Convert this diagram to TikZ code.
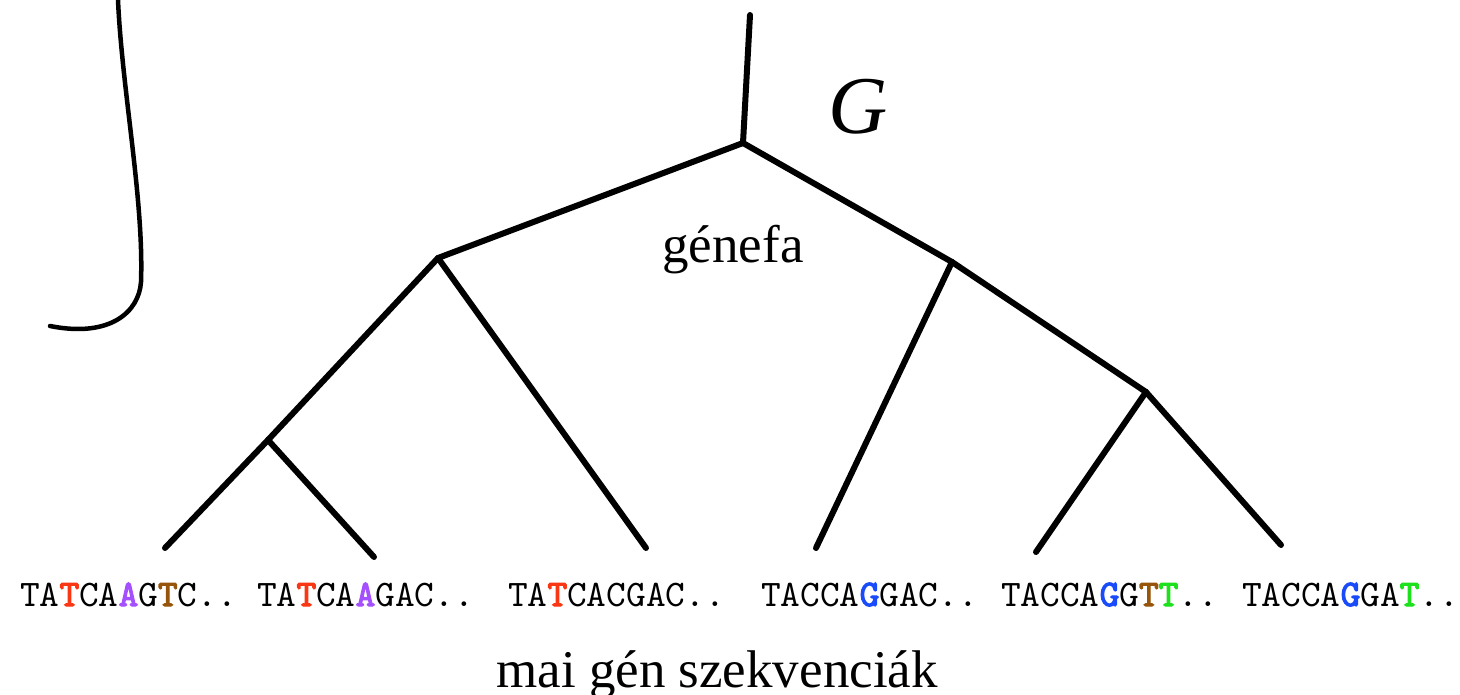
\documentclass[tikz,border=0pt]{standalone}
\usepackage{fontspec}
\setmainfont{Liberation Serif}
\newfontfamily\seqfont{lmmono10-regular.otf}[BoldFont=lmmono10-regular.otf,BoldFeatures={FakeBold=3}]
\definecolor{mred}{RGB}{250,55,20}
\definecolor{mpurple}{RGB}{165,80,255}
\definecolor{mbrown}{RGB}{150,85,10}
\definecolor{mblue}{RGB}{25,75,250}
\definecolor{mgreen}{RGB}{30,225,30}
\newcommand{\cb}[2]{\textcolor{#1}{\textbf{#2}}}
\begin{document}
\begin{tikzpicture}[x=1pt,y=-1pt,
  branch/.style={line width=6pt,line cap=round},
  seq/.style={anchor=base west,inner sep=0pt,font=\seqfont\fontsize{37.5}{40}\selectfont},
  lbl/.style={inner sep=0pt,font=\fontsize{53}{60}\selectfont}]
\useasboundingbox (0,0) rectangle (1460,695);
% tree points
\coordinate (top) at (750,15);
\coordinate (r) at (743,143);
\coordinate (a) at (438,258);
\coordinate (b) at (952,262);
\coordinate (c) at (268,440);
\coordinate (d) at (1146,392);
\coordinate (l1) at (165,548);
\coordinate (l2) at (374,557);
\coordinate (l3) at (646,548);
\coordinate (l4) at (816,548);
\coordinate (l5) at (1036,552);
\coordinate (l6) at (1281,545);
\draw[branch] (top) -- (r);
\draw[branch] (r) -- (a);
\draw[branch] (r) -- (b);
\draw[branch] (a) -- (c);
\draw[branch] (c) -- (l1);
\draw[branch] (c) -- (l2);
\draw[branch] (a) -- (l3);
\draw[branch] (b) -- (l4);
\draw[branch] (b) -- (d);
\draw[branch] (d) -- (l5);
\draw[branch] (d) -- (l6);
% bracket curve
\draw[line width=4.5pt,line cap=round] (118,0) .. controls (122,90) and (144,200) .. (141,282)
  .. controls (139,312) and (110,338) .. (50,326);
% labels
\node[inner sep=0pt,anchor=base,font=\fontsize{82}{90}\selectfont\itshape] (G) at (858,134) {G};
\node[lbl,anchor=base] (gf) at (733,262) {génefa};
\node[lbl,anchor=base] (mai) at (717,687) {mai gén szekvenciák};
% sequences
\node[seq] (s1) at (20,606) {TA\cb{mred}{T}CA\cb{mpurple}{A}G\cb{mbrown}{T}C..};
\node[seq] (s2) at (257,606) {TA\cb{mred}{T}CA\cb{mpurple}{A}GAC..};
\node[seq] (s3) at (508,606) {TA\cb{mred}{T}CACGAC..};
\node[seq] (s4) at (761,606) {TACCA\cb{mblue}{G}GAC..};
\node[seq] (s5) at (1001,606) {TACCA\cb{mblue}{G}G\cb{mbrown}{T}\cb{mgreen}{T}..};
\node[seq] (s6) at (1242,606) {TACCA\cb{mblue}{G}GA\cb{mgreen}{T}..};
\end{tikzpicture}
\end{document}
